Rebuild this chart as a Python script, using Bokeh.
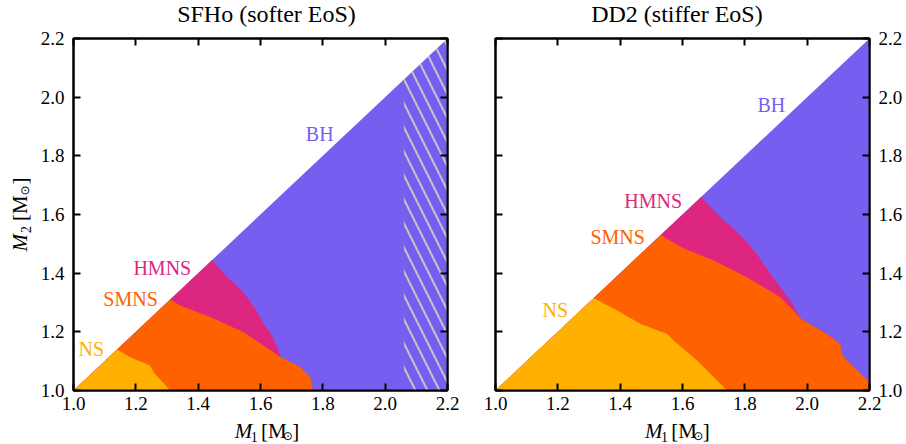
import math
from bokeh.plotting import figure
from bokeh.layouts import row, column
from bokeh.models import (Label, LinearAxis, FixedTicker, NumeralTickFormatter,
                          CustomJSTickFormatter)
from bokeh.embed import file_html
from bokeh.resources import INLINE

# ---------------- data ----------------
m_min, m_max = 1.0, 2.2
ticks = [1.0, 1.2, 1.4, 1.6, 1.8, 2.0, 2.2]

titles = ["SFHo (softer EoS)", "DD2 (stiffer EoS)"]

# SFHo boundaries (from the equal-mass line down to the M2 = 1.0 edge)
sfho_ns_x = [1.14, 1.18, 1.20, 1.22, 1.245, 1.26, 1.285, 1.31]
sfho_ns_y = [1.14, 1.115, 1.105, 1.097, 1.085, 1.058, 1.03, 1.0]
sfho_smns_x = [1.31, 1.343, 1.44, 1.546, 1.60, 1.664, 1.70, 1.728, 1.76, 1.766, 1.771]
sfho_smns_y = [1.31, 1.29, 1.25, 1.199, 1.16, 1.114, 1.095, 1.08, 1.045, 1.011, 1.0]
sfho_hmns_x = [1.445, 1.493, 1.525, 1.557, 1.585, 1.611, 1.635, 1.654, 1.664]
sfho_hmns_y = [1.445, 1.386, 1.355, 1.318, 1.275, 1.227, 1.19, 1.148, 1.114]
sfho_hatch_m1 = 2.06

# DD2 boundaries
dd2_ns_x = [1.315, 1.38, 1.466, 1.551, 1.572, 1.647, 1.743]
dd2_ns_y = [1.315, 1.279, 1.227, 1.193, 1.17, 1.102, 1.0]
dd2_smns_x = [1.53, 1.594, 1.70, 1.807, 1.914, 1.98, 2.063, 2.106, 2.111, 2.127, 2.196, 2.2]
dd2_smns_y = [1.53, 1.489, 1.443, 1.386, 1.318, 1.245, 1.193, 1.159, 1.125, 1.102, 1.034, 1.015]
dd2_hmns_x = [1.66, 1.722, 1.765, 1.807, 1.845, 1.882, 1.946, 1.98]
dd2_hmns_y = [1.66, 1.591, 1.55, 1.506, 1.455, 1.398, 1.307, 1.245]

region_names = ["NS", "SMNS", "HMNS", "BH"]
region_colors = ["#FFB000", "#FE6100", "#DC267F", "#785EF0"]
sfho_label_x = [1.057, 1.183, 1.285, 1.79]
sfho_label_y = [1.14, 1.312, 1.419, 1.875]
dd2_label_x = [1.192, 1.392, 1.506, 1.885]
dd2_label_y = [1.276, 1.523, 1.645, 1.975]

SERIF = "Liberation Serif"
FRAME_W, FRAME_H = 374, 352
TOP_B, BOT_B = 11, 28


def style_axis(ax, show_labels, standoff):
    ax.ticker = FixedTicker(ticks=ticks)
    ax.major_tick_in = 7
    ax.major_tick_out = 0
    ax.minor_tick_line_color = None
    ax.major_tick_line_width = 2
    ax.major_tick_line_color = "black"
    ax.axis_line_width = 2
    ax.axis_line_color = "black"
    ax.major_label_text_font = SERIF
    ax.major_label_text_color = "black"
    if show_labels:
        ax.formatter = NumeralTickFormatter(format="0.0")
        ax.major_label_text_font_size = "19px"
        ax.major_label_standoff = standoff
    else:
        ax.formatter = CustomJSTickFormatter(code="return ''")
        ax.major_label_text_font_size = "1px"
        ax.major_label_standoff = 0


def blank_fig(w, h):
    f = figure(width=w, height=h, x_range=(0, w), y_range=(0, h),
               x_axis_type=None, y_axis_type=None, output_backend="svg",
               toolbar_location=None, min_border=0)
    f.grid.visible = False
    f.outline_line_color = None
    f.background_fill_color = "white"
    f.border_fill_color = "white"
    return f


def mass_label(f, sub, x0, y0, vertical):
    # pieces: text, size, style, advance, drop of the middle line, font
    pieces = [("M", 21, "italic", 0.0, 0.0, SERIF),
              (sub, 14, "normal", 18.5, 6.0, SERIF),
              ("[M", 21, "normal", 30.5, 0.0, SERIF),
              ("\u2299", 12, "normal", 56.0, 5.5, "DejaVu Sans"),
              ("]", 21, "normal", 67.0, 0.0, SERIF)]
    start = -37.0
    for txt, size, style, adv, drop, font in pieces:
        if vertical:
            lab = Label(x=x0 + drop, y=y0 + start + adv, angle=math.pi / 2)
        else:
            lab = Label(x=x0 + start + adv, y=y0 - drop)
        lab.text = txt
        lab.text_font = font
        lab.text_font_size = f"{size}px"
        lab.text_font_style = style
        lab.text_baseline = "middle"
        lab.text_align = "left"
        lab.text_color = "black"
        f.add_layout(lab)


def make_panel(ns_x, ns_y, smns_x, smns_y, hmns_x, hmns_y,
               lab_x, lab_y, left, hatch_m1=None):
    p = figure(frame_width=FRAME_W, frame_height=FRAME_H,
               x_range=(m_min, m_max), y_range=(m_min, m_max),
               output_backend="svg", toolbar_location=None,
               y_axis_location="left" if left else "right",
               min_border_left=38 if left else 24,
               min_border_right=24 if left else 37,
               min_border_top=TOP_B, min_border_bottom=BOT_B)
    p.grid.visible = False
    p.outline_line_color = "black"
    p.outline_line_width = 2
    p.background_fill_color = "white"
    p.border_fill_color = "white"

    # BH: whole region below the equal-mass line
    p.patch([m_min, m_max, m_max], [m_min, m_max, m_min],
            fill_color=region_colors[3], line_color=None)
    # HMNS and below
    k = next(i for i, v in enumerate(smns_x) if v > hmns_x[-1])
    hx = [m_min] + hmns_x + smns_x[k:] + [smns_x[-1]]
    hy = [m_min] + hmns_y + smns_y[k:] + [m_min]
    p.patch(hx, hy, fill_color=region_colors[2], line_color=None)
    # SMNS and below
    p.patch([m_min] + smns_x + [smns_x[-1]], [m_min] + smns_y + [m_min],
            fill_color=region_colors[1], line_color=None)
    # NS
    p.patch([m_min] + ns_x + [ns_x[-1]], [m_min] + ns_y + [m_min],
            fill_color=region_colors[0], line_color=None)

    if hatch_m1 is not None:
        p.patch([hatch_m1, hatch_m1, m_max, m_max], [m_min, hatch_m1, m_max, m_min],
                fill_color=None, line_color=None, hatch_pattern="\\",
                hatch_color="#c4c4c4", hatch_weight=2, hatch_scale=24)

    for name, col, x, y in zip(region_names, region_colors, lab_x, lab_y):
        p.add_layout(Label(x=x, y=y, text=name, text_color=col, text_font=SERIF,
                           text_font_size="20px", text_align="center",
                           text_baseline="middle"))

    style_axis(p.xaxis[0], True, 6)
    style_axis(p.yaxis[0], True, 9)
    top = LinearAxis()
    style_axis(top, False, 0)
    p.add_layout(top, "above")
    side = LinearAxis()
    style_axis(side, False, 0)
    p.add_layout(side, "right" if left else "left")
    return p


p1 = make_panel(sfho_ns_x, sfho_ns_y, sfho_smns_x, sfho_smns_y,
                sfho_hmns_x, sfho_hmns_y, sfho_label_x, sfho_label_y, True,
                hatch_m1=sfho_hatch_m1)
p2 = make_panel(dd2_ns_x, dd2_ns_y, dd2_smns_x, dd2_smns_y,
                dd2_hmns_x, dd2_hmns_y, dd2_label_x, dd2_label_y, False)

W1 = 38 + FRAME_W + 24
W2 = 24 + FRAME_W + 37
TITLE_H, YLAB_W = 38 - TOP_B, 35
XLAB_H = 444 - (TITLE_H + TOP_B + FRAME_H + BOT_B)

cols = []
for title, w, frame_left in [(titles[0], W1, 38), (titles[1], W2, 24)]:
    t = blank_fig(w, TITLE_H)
    t.add_layout(Label(x=frame_left + FRAME_W / 2, y=TITLE_H - 13.5, text=title,
                       text_font=SERIF, text_font_size="24px", text_align="center",
                       text_baseline="middle", text_color="black"))
    xl = blank_fig(w, XLAB_H)
    mass_label(xl, "1", frame_left + FRAME_W / 2, 14, vertical=False)
    cols.append((t, xl))

total_h = TITLE_H + TOP_B + FRAME_H + BOT_B + XLAB_H
yl = blank_fig(YLAB_W, total_h)
mass_label(yl, "2", 19, total_h - (TITLE_H + TOP_B + FRAME_H / 2), vertical=True)

layout = row(yl, column(cols[0][0], p1, cols[0][1]), column(cols[1][0], p2, cols[1][1]))
open("out.html", "w").write(file_html(layout, INLINE))
